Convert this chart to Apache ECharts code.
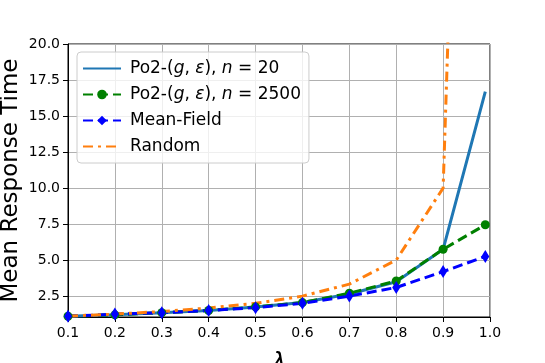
<!DOCTYPE html>
<html><head><meta charset="utf-8">
<script src="https://cdn.jsdelivr.net/npm/echarts@6/dist/echarts.min.js"></script>
<style>html,body{margin:0;padding:0;background:#fff}#c{width:545px;height:363px}</style>
</head><body><div id="c"></div>
<script>
var lambdas = [0.1,0.2,0.3,0.4,0.5,0.6,0.7,0.8,0.9,0.99];
var po2n20 = [1.1,1.2,1.35,1.5,1.75,2.05,2.65,3.5,5.75,16.7];
var po2n2500 = [1.1,1.2,1.35,1.5,1.75,2.05,2.7,3.55,5.75,7.45];
var meanField = [1.1,1.25,1.35,1.5,1.7,2.0,2.5,3.1,4.2,5.25];
var randomRT = [1.11,1.25,1.43,1.67,2.0,2.5,3.33,5.0,10.0,100];
var yTicks = [2.5,5,7.5,10,12.5,15,17.5,20];
var seriesNames = ['n20','n2500','mf','rand'];
var legendLabels = {
  n20: 'Po2-({i|g}, {i|ε}), {i|n} = 20',
  n2500: 'Po2-({i|g}, {i|ε}), {i|n} = 2500',
  mf: 'Mean-Field',
  rand: 'Random'
};
function pairs(ys){ return lambdas.map(function(x,i){return [x, ys[i]];}); }
var font = 'DejaVu Sans';
var hideSym = {color:'rgba(0,0,0,0)',borderColor:'rgba(0,0,0,0)',borderWidth:0};
var chart = echarts.init(document.getElementById('c'), null, {renderer:'canvas'});
chart.setOption({
  animation:false,
  grid:{left:68,right:55,top:44,bottom:46,show:true,borderColor:'#000',borderWidth:1,backgroundColor:'transparent',
    containLabel:false,outerBoundsMode:'none'},
  xAxis:{type:'value',min:0.1,max:1.0,interval:0.1,
    name:'λ',nameLocation:'middle',nameGap:35,nameMoveOverlap:false,
    nameTextStyle:{fontFamily:font,fontStyle:'italic',fontSize:24,color:'#000',verticalAlign:'top'},
    axisLine:{show:true,lineStyle:{color:'#000',width:1}},
    axisTick:{show:true,length:5,lineStyle:{color:'#000'}},
    axisLabel:{color:'#000',fontFamily:font,fontSize:14,margin:9,formatter:function(v){return v.toFixed(1);}},
    splitLine:{show:true,lineStyle:{color:'#b0b0b0',width:1}}
  },
  yAxis:{type:'value',min:1.05,max:20,
    name:'Mean Response Time',nameLocation:'middle',nameGap:45,nameMoveOverlap:false,
    nameTextStyle:{fontFamily:font,fontSize:23,color:'#000'},
    axisLine:{show:true,lineStyle:{color:'#000',width:1}},
    axisTick:{show:true,length:5,lineStyle:{color:'#000'},customValues:yTicks},
    axisLabel:{color:'#000',fontFamily:font,fontSize:14,margin:8,customValues:yTicks,formatter:function(v){return v.toFixed(1);}},
    splitLine:{show:true,lineStyle:{color:'#b0b0b0',width:1}}
  },
  legend:{orient:'vertical',left:77,top:52,itemWidth:38,itemHeight:12,itemGap:9,
    padding:[8,8,8,5],backgroundColor:'rgba(255,255,255,0.8)',borderColor:'#cccccc',borderWidth:1,borderRadius:4,
    data:[{name:'n20',itemStyle:hideSym},{name:'n2500'},{name:'mf'},{name:'rand',itemStyle:hideSym}],
    formatter:function(n){return legendLabels[n];},
    textStyle:{fontFamily:font,fontSize:17,color:'#000',padding:[0,0,0,4],
      rich:{i:{fontFamily:font,fontStyle:'italic',fontSize:17,color:'#000'}}}
  },
  series:[
    {name:'n20',type:'line',data:pairs(po2n20),symbol:'none',
      lineStyle:{color:'#1f77b4',width:3,type:'solid'},itemStyle:{color:'#1f77b4'}},
    {name:'n2500',type:'line',data:pairs(po2n2500),symbol:'circle',symbolSize:9,
      lineStyle:{color:'#008000',width:3,type:[10,5]},itemStyle:{color:'#008000'}},
    {name:'mf',type:'line',data:pairs(meanField),symbol:'diamond',symbolSize:[8,13],
      lineStyle:{color:'#0000ff',width:3,type:[10,5]},itemStyle:{color:'#0000ff'}},
    {name:'rand',type:'line',data:pairs(randomRT),symbol:'none',clip:true,
      lineStyle:{color:'#ff7f0e',width:3,type:[10,5,3,5]},itemStyle:{color:'#ff7f0e'}}
  ]
});
</script></body></html>
